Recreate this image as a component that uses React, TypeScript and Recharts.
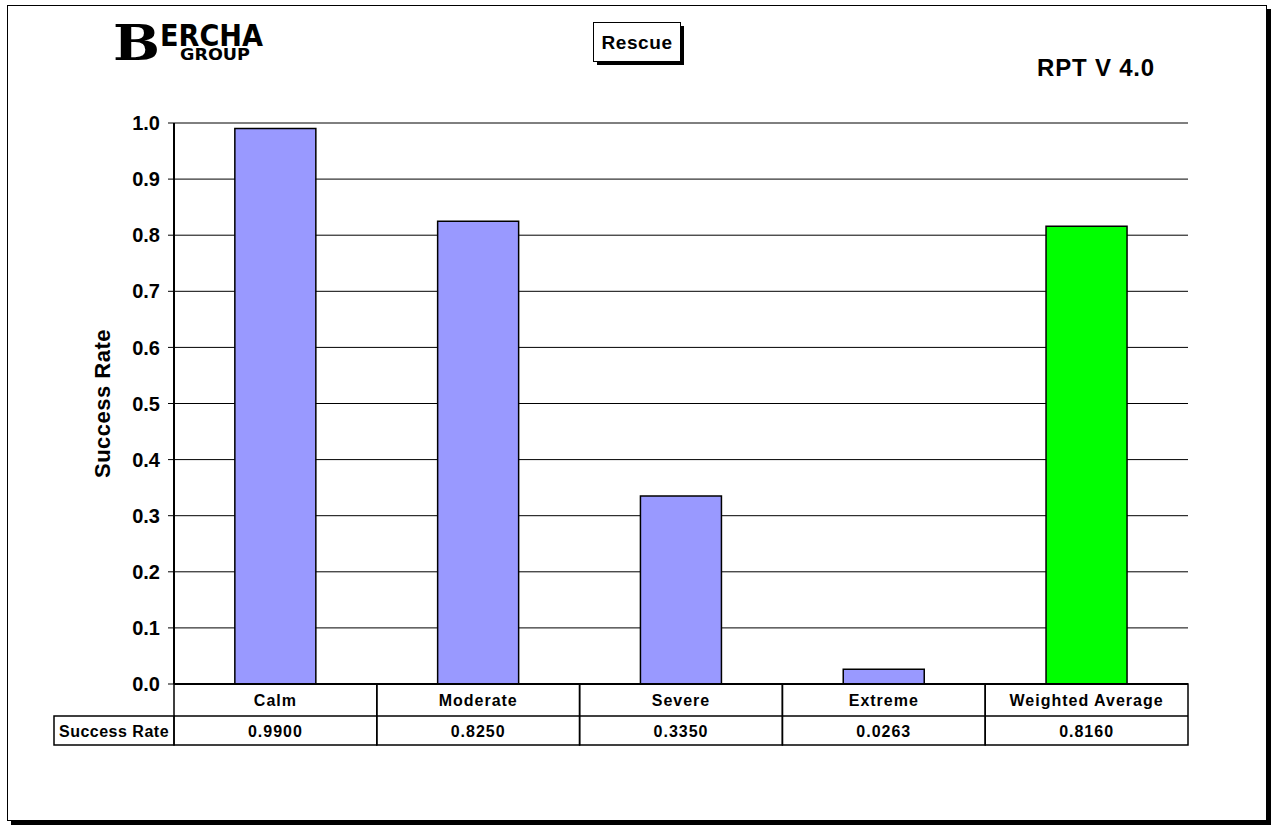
import React from 'react';
import { Bar, BarChart, CartesianGrid, Cell, XAxis, YAxis } from 'recharts';

const categories = ['Calm', 'Moderate', 'Severe', 'Extreme', 'Weighted Average'];
const successRates = [0.99, 0.825, 0.335, 0.0263, 0.816];
const barColors = ['#9999FF', '#9999FF', '#9999FF', '#9999FF', '#00FF00'];
const yTicks = [0, 0.1, 0.2, 0.3, 0.4, 0.5, 0.6, 0.7, 0.8, 0.9, 1.0];

const rowLabel = 'Success Rate';
const chartTitle = 'Rescue';
const versionText = 'RPT V 4.0';

const data = categories.map((name, i) => ({ name, rate: successRates[i], color: barColors[i] }));

const FONT = '"Liberation Sans", Arial, Helvetica, sans-serif';
const W = 1273;
const H = 825;
const PLOT_LEFT = 174;
const PLOT_RIGHT = 1188;
const HEAD_H = 32;
const ROW_H = 29;
const BAND = (PLOT_RIGHT - PLOT_LEFT) / categories.length;

const cellText = {
  fontFamily: FONT,
  fontWeight: 'bold' as const,
  fontSize: 16,
  letterSpacing: 1,
  fill: '#000',
};

// each x tick becomes one column of the data table under the plot
function TableTick(props: any) {
  const { x, y, index, payload } = props;
  const left = x - BAND / 2;
  const value = successRates[index];
  return (
    <g>
      <rect x={left} y={y} width={BAND} height={HEAD_H + ROW_H} fill="none" stroke="#000" strokeWidth={1.5} />
      <line x1={left} x2={left + BAND} y1={y + HEAD_H} y2={y + HEAD_H} stroke="#000" strokeWidth={1.5} />
      <text x={x} y={y + HEAD_H / 2 + 6} textAnchor="middle" {...cellText}>
        {payload.value}
      </text>
      <text x={x} y={y + HEAD_H + ROW_H / 2 + 6} textAnchor="middle" {...cellText}>
        {value.toFixed(4)}
      </text>
      {index === 0 && (
        <g>
          <rect x={54} y={y + HEAD_H} width={left - 54} height={ROW_H} fill="none" stroke="#000" strokeWidth={1.5} />
          <text x={(54 + left) / 2} y={y + HEAD_H + ROW_H / 2 + 6} textAnchor="middle" {...cellText} letterSpacing={0.5}>
            {rowLabel}
          </text>
        </g>
      )}
    </g>
  );
}

// logo, title box and version tag above the plot
function Header() {
  return (
    <svg width={W} height={100} style={{ position: 'absolute', left: 0, top: 0 }}>
      <text x={113} y={60} fontFamily='"DejaVu Serif", serif' fontWeight="bold" fontSize={48} textLength={47} lengthAdjust="spacingAndGlyphs" fill="#000">
        B
      </text>
      <text x={160} y={46} fontFamily='"DejaVu Sans Condensed", "DejaVu Sans", sans-serif' fontWeight="bold" fontSize={31} textLength={103} lengthAdjust="spacingAndGlyphs" fill="#000">
        ERCHA
      </text>
      <text x={180} y={60} fontFamily='"DejaVu Sans", sans-serif' fontWeight="bold" fontSize={16} textLength={70} lengthAdjust="spacingAndGlyphs" fill="#000">
        GROUP
      </text>

      <rect x={597} y={26} width={87} height={39} fill="#000" />
      <rect x={593.5} y={22.5} width={87} height={39} fill="#fff" stroke="#000" strokeWidth={1} />
      <text x={637} y={49} textAnchor="middle" fontFamily={FONT} fontWeight="bold" fontSize={19} letterSpacing={0.6} fill="#000">
        {chartTitle}
      </text>

      <text x={1096} y={76} textAnchor="middle" fontFamily={FONT} fontWeight="bold" fontSize={24} letterSpacing={0.8} fill="#000">
        {versionText}
      </text>
    </svg>
  );
}

export default function App() {
  return (
    <div style={{ position: 'absolute', left: 0, top: 0, width: W, height: H, background: '#fff', fontFamily: FONT }}>
      <div
        style={{
          position: 'absolute',
          left: 7,
          top: 5,
          width: 1258,
          height: 814,
          border: '1.5px solid #000',
          boxShadow: '4px 4px 0 #000',
        }}
      />
      <Header />
      <div style={{ position: 'absolute', left: 0, top: 0 }}>
        <BarChart
          width={W}
          height={H}
          data={data}
          margin={{ top: 123, right: W - PLOT_RIGHT, bottom: 80, left: 0 }}
          barCategoryGap="30%"
        >
          <CartesianGrid vertical={false} stroke="#000" strokeWidth={1} />
          <XAxis
            dataKey="name"
            height={61}
            tickSize={0}
            tickMargin={0}
            tickLine={false}
            axisLine={{ stroke: '#000', strokeWidth: 2 }}
            tick={<TableTick />}
            interval={0}
          />
          <YAxis
            width={PLOT_LEFT}
            domain={[0, 1]}
            ticks={yTicks}
            tickFormatter={(v: number) => v.toFixed(1)}
            axisLine={{ stroke: '#000', strokeWidth: 2 }}
            tickLine={{ stroke: '#000' }}
            tickSize={6}
            tickMargin={8}
            tick={{ fill: '#000', fontSize: 20, fontWeight: 'bold', fontFamily: FONT }}
            label={{
              value: rowLabel,
              angle: -90,
              position: 'insideLeft',
              offset: 102,
              style: { fill: '#000', fontSize: 22, fontWeight: 'bold', fontFamily: FONT, textAnchor: 'middle', letterSpacing: 0.5 },
            }}
          />
          <YAxis
            yAxisId="frame"
            orientation="right"
            width={0}
            domain={[0, 1]}
            tick={false}
            tickLine={false}
            axisLine={{ stroke: '#000', strokeWidth: 1.5 }}
          />
          <Bar dataKey="rate" stroke="#000" strokeWidth={1.5} isAnimationActive={false}>
            {data.map((d) => (
              <Cell key={d.name} fill={d.color} />
            ))}
          </Bar>
        </BarChart>
      </div>
    </div>
  );
}
